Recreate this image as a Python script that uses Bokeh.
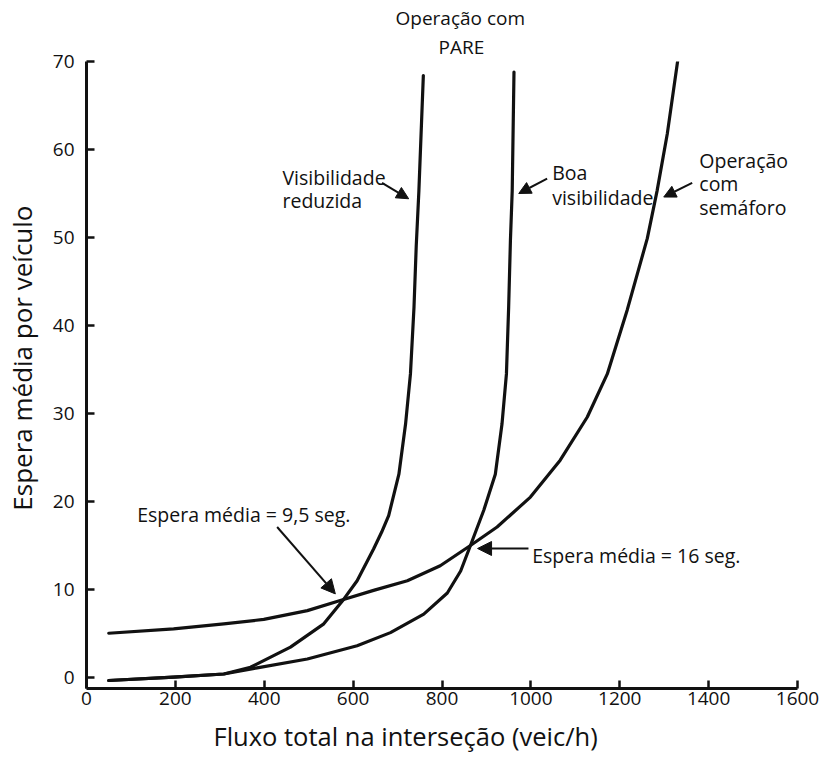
import math
from bokeh.plotting import figure
from bokeh.models import Range1d, Label, Arrow, NormalHead, FixedTicker, Title
from bokeh.embed import file_html
from bokeh.resources import INLINE

# ---- data ----
x_ticks = [0, 200, 400, 600, 800, 1000, 1200, 1400, 1600]
y_ticks = [0, 10, 20, 30, 40, 50, 60, 70]

semaforo_x = [50, 196, 309, 399, 497, 571, 646, 722, 796, 864, 924, 999, 1066, 1127, 1172, 1217, 1262, 1284, 1307, 1331]
semaforo_y = [5.03, 5.53, 6.1, 6.6, 7.6, 8.75, 9.9, 11.0, 12.7, 15.0, 17.1, 20.5, 24.7, 29.6, 34.5, 41.8, 49.9, 55.3, 61.8, 70.3]

reduzida_x = [50, 196, 309, 369, 459, 534, 579, 609, 646, 664, 680, 703, 718, 729, 737, 742, 748, 758]
reduzida_y = [-0.34, 0.04, 0.4, 1.17, 3.45, 6.1, 8.9, 11.0, 14.6, 16.5, 18.4, 23.1, 28.8, 34.5, 42.1, 49.0, 55.3, 68.4]

boa_x = [50, 196, 309, 384, 497, 609, 684, 759, 812, 842, 864, 894, 920, 935, 945, 950, 954, 958, 962]
boa_y = [-0.34, 0.04, 0.4, 1.1, 2.1, 3.6, 5.1, 7.2, 9.6, 12.1, 15.0, 19.0, 23.1, 28.8, 34.5, 42.1, 49.7, 55.3, 68.8]

x_title = "Fluxo total na interseção (veic/h)"
y_title = "Espera média por veículo"
top_title = ["Operação com", "PARE"]

FONT = "Open Sans"
INK = "#111111"
NBSP = "\u00a0"

p = figure(width=820, height=762, output_backend="svg", toolbar_location=None,
           x_range=Range1d(0, 1600), y_range=Range1d(-1.25, 70),
           min_border_left=86, min_border_right=23, min_border_top=61, min_border_bottom=74)
p.outline_line_color = None
p.grid.visible = False
p.background_fill_color = "white"
p.border_fill_color = "white"

for ax in (p.xaxis, p.yaxis):
    ax.axis_line_width = 3
    ax.axis_line_color = INK
    ax.major_tick_in = 8
    ax.major_tick_out = 0
    ax.major_tick_line_width = 2.5
    ax.major_tick_line_color = INK
    ax.minor_tick_line_color = None
    ax.major_label_text_font = FONT
    ax.major_label_text_font_size = "19px"
    ax.major_label_text_color = INK
    ax.axis_label_text_font = FONT
    ax.axis_label_text_font_style = "normal"
    ax.axis_label_text_color = INK
p.xaxis.ticker = FixedTicker(ticks=x_ticks)
p.yaxis.ticker = FixedTicker(ticks=y_ticks)
p.xaxis.major_label_standoff = 3
p.yaxis.major_label_standoff = 12

# axis titles (non-breaking spaces only shift the centred text along the axis)
p.xaxis.axis_label = x_title + NBSP * 11
p.xaxis.axis_label_text_font_size = "25.5px"
p.xaxis.axis_label_standoff = 11
p.yaxis.axis_label = NBSP * 5 + y_title
p.yaxis.axis_label_text_font_size = "26px"
p.yaxis.axis_label_standoff = 10

def style_title(t, size="19px"):
    t.text_font = FONT
    t.text_font_size = size
    t.text_font_style = "normal"
    t.text_color = INK
    t.align = "left"

# two-line title above the PARE curves (the figure's own title is the outer line)
p.title.text = top_title[0]
style_title(p.title)
p.title.offset = 309
p.title.standoff = 0
t_top = Title(text=top_title[1])
style_title(t_top)
t_top.offset = 352
t_top.standoff = 3
p.add_layout(t_top, "above")

for xs, ys in ((semaforo_x, semaforo_y), (reduzida_x, reduzida_y), (boa_x, boa_y)):
    p.line(xs, ys, line_width=3.2, line_color=INK, line_join="round", line_cap="round")

def lab(x, y, t, size="19.5px", align="left"):
    p.add_layout(Label(x=x, y=y, text=t, text_font=FONT, text_font_size=size,
                       text_color=INK, text_align=align, text_baseline="alphabetic"))

lab(441, 56.85, "Visibilidade")
lab(441, 54.2, "reduzida")
lab(1048, 57.4, "Boa")
lab(1048, 54.6, "visibilidade")
lab(1379, 58.7, "Operação")
lab(1379, 56.1, "com")
lab(1379, 53.4, "semáforo")
lab(114, 18.5, "Espera média = 9,5 seg.")
lab(1003, 13.86, "Espera média = 16 seg.")

def arrow(x0, y0, x1, y1, size):
    p.add_layout(Arrow(x_start=x0, y_start=y0, x_end=x1, y_end=y1,
                       line_width=2, line_color=INK,
                       end=NormalHead(size=size, fill_color=INK, line_color=INK, line_width=1)))

arrow(429, 17.1, 560, 9.5, 14)
arrow(994.6, 14.66, 880, 14.66, 14)
arrow(665, 56.2, 725, 54.4, 12)
arrow(1036.6, 56.7, 972.7, 55.0, 12)
arrow(1363, 56.2, 1299, 54.6, 12)

open("out.html", "w").write(file_html(p, INLINE))
